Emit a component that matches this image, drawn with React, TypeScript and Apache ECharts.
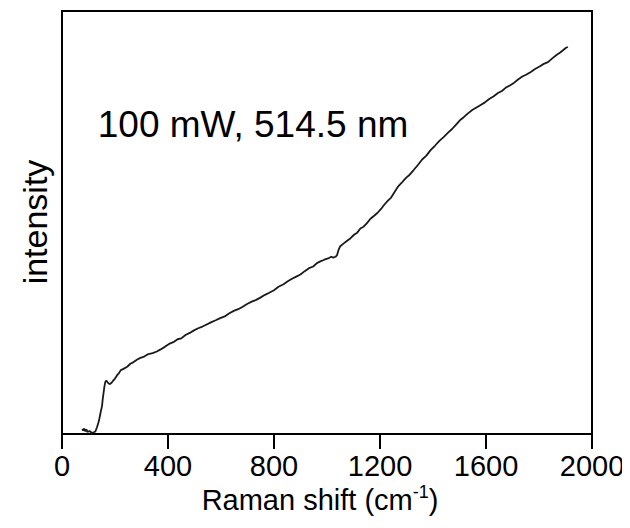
import React, { useEffect, useRef } from "react";
import * as echarts from "echarts";

const ramanShift: number[] = [
  76, 80, 84, 88, 92, 96, 104, 112, 120, 126, 132, 137, 141, 146, 151, 154, 157, 160, 163, 166,
  170, 175, 181, 187, 193, 200, 208, 215, 222, 232, 246, 258, 270, 284, 296, 310, 326, 342, 358, 372,
  388, 404, 420, 436, 450, 466, 482, 498, 514, 530, 546, 562, 580, 597, 614, 630, 648, 665, 682, 700,
  716, 733, 750, 766, 782, 800, 817, 836, 852, 868, 884, 900, 916, 932, 948, 962, 975, 990, 1004, 1016,
  1024, 1032, 1038, 1044, 1050, 1062, 1076, 1089, 1102, 1114, 1126, 1138, 1150, 1164, 1178, 1191, 1204, 1216, 1229, 1242,
  1255, 1267, 1282, 1297, 1312, 1327, 1343, 1359, 1375, 1391, 1408, 1424, 1440, 1456, 1472, 1488, 1504, 1516, 1532, 1548,
  1564, 1580, 1596, 1612, 1628, 1645, 1660, 1675, 1690, 1705, 1721, 1737, 1753, 1769, 1785, 1802, 1818, 1834, 1850, 1866,
  1880, 1894, 1902, 1909,
];

const intensity: number[] = [
  1.2, 0.8, 1.3, 0.6, 1.1, 0.5, 0.7, 0.3, 0.4, 0.6, 1.6, 2.6, 3.6, 5.2, 6.6, 8.4, 9.8, 11.2, 12.2, 12.6,
  12.4, 12.0, 11.8, 12.1, 12.6, 13.1, 13.9, 14.4, 15.1, 15.4, 15.9, 16.6, 17.0, 17.6, 18.0, 18.3, 18.9, 19.1, 19.5, 20.0,
  20.6, 21.3, 21.7, 22.4, 22.6, 23.4, 23.9, 24.5, 25.0, 25.4, 25.9, 26.4, 26.9, 27.4, 27.8, 28.5, 29.1, 29.5, 30.1, 30.8,
  31.3, 31.7, 32.3, 32.9, 33.4, 34.0, 34.8, 35.4, 36.1, 36.7, 37.2, 37.7, 38.5, 39.2, 39.6, 40.4, 40.8, 41.2, 41.5, 41.9,
  41.7, 41.9, 42.3, 43.6, 44.4, 45.0, 45.7, 46.3, 47.1, 47.6, 48.6, 49.0, 49.8, 50.9, 51.6, 52.3, 53.2, 54.2, 55.1, 55.9,
  57.2, 58.4, 59.4, 60.5, 61.3, 62.4, 63.6, 64.9, 65.8, 67.1, 68.2, 69.3, 70.2, 71.2, 72.1, 73.2, 74.3, 74.9, 75.8, 76.6,
  77.2, 77.8, 78.4, 79.2, 79.8, 80.6, 81.1, 81.9, 82.4, 83.0, 83.8, 84.5, 85.0, 85.6, 86.3, 86.9, 87.5, 87.9, 88.8, 89.6,
  90.2, 90.9, 91.3, 91.5,
];

const xTicks = { min: 0, max: 2000, interval: 400 };
const yRange = { min: 0, max: 100 };
const xTitle = "Raman shift (cm";
const xTitleSup = "-1";
const yTitle = "intensity";
const annotation = "100 mW, 514.5 nm";

const FONT = "'Liberation Sans', Arial, sans-serif";

export default function App() {
  const ref = useRef<HTMLDivElement>(null);
  useEffect(() => {
    if (!ref.current) return;
    const chart = echarts.init(ref.current, null, { renderer: "svg" });
    const data = ramanShift.map((x, i) => [x, intensity[i]]);
    chart.setOption({
      animation: false,
      backgroundColor: "#fff",
      textStyle: { fontFamily: FONT },
      grid: {
        left: 62,
        right: 38,
        top: 11,
        bottom: 94,
        show: true,
        borderColor: "#000",
        borderWidth: 2,
      },
      xAxis: {
        type: "value",
        min: xTicks.min,
        max: xTicks.max,
        interval: xTicks.interval,
        axisLine: { show: true, lineStyle: { color: "#000", width: 1.5 } },
        axisTick: { show: true, length: 15, lineStyle: { color: "#000", width: 2 } },
        axisLabel: {
          color: "#000",
          fontSize: 29,
          fontFamily: FONT,
          margin: 17,
          formatter: (v: number) => String(v),
        },
        splitLine: { show: false },
      },
      yAxis: {
        type: "value",
        min: yRange.min,
        max: yRange.max,
        axisLine: { show: true, lineStyle: { color: "#000", width: 2 } },
        axisTick: { show: false },
        axisLabel: { show: false },
        splitLine: { show: false },
      },
      graphic: [
        {
          type: "text",
          x: 35,
          y: 222,
          rotation: Math.PI / 2,
          style: {
            text: yTitle,
            fontSize: 34,
            fontFamily: FONT,
            fill: "#000",
            align: "center",
            verticalAlign: "middle",
          },
        },
        {
          type: "text",
          x: 253,
          y: 124,
          style: {
            text: annotation,
            fontSize: 37,
            fontFamily: FONT,
            fill: "#000",
            align: "center",
            verticalAlign: "middle",
          },
        },
        {
          type: "text",
          x: 320,
          y: 500,
          style: {
            text: xTitle + "{sup|" + xTitleSup + "})",
            fontSize: 29,
            fontFamily: FONT,
            fill: "#000",
            align: "center",
            verticalAlign: "middle",
            rich: {
              sup: { fontSize: 18, fontFamily: FONT, fill: "#000", verticalAlign: "top", lineHeight: 35, padding: [0, 0, 10, 0] },
            },
          },
        },
      ],
      series: [
        {
          type: "line",
          data,
          showSymbol: false,
          symbol: "none",
          lineStyle: { color: "#1a1a1a", width: 1.8 },
        },
      ],
    });
    return () => chart.dispose();
  }, []);
  return <div ref={ref} style={{ width: 630, height: 528, margin: -8 }} />;
}
